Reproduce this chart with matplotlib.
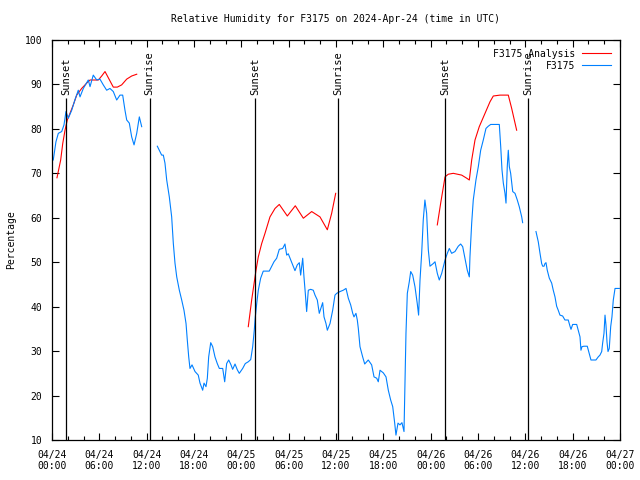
import numpy as np
import matplotlib
matplotlib.use('Agg')
import matplotlib.pyplot as plt
from matplotlib.ticker import MultipleLocator

plt.rcParams['font.family'] = ['DejaVu Sans Mono']
plt.rcParams['font.size'] = 7

nan = np.nan

# hours since 2024-04-24 00:00 UTC, observed relative humidity (gaps = nan)
obs_t = [0.16, 0.5, 0.8, 1.23, 1.52, 1.77, 2.07, 2.5, 2.9, 3.33, 3.55, 3.97, 4.6, 4.82,
         5.23, 5.67, 6.08, 6.5, 6.93, 7.35, 7.77, 8.2, 8.62, 8.96, 9.25, 9.47, 9.8, 10.1,
         10.4, 10.74, 11.07, 11.37,
         12.3,
         13.35, 13.9, 14.11, 14.32, 14.54, 14.87, 15.17, 15.38, 15.59, 15.81, 16.14, 16.44,
         16.73, 16.99, 17.15, 17.33, 17.49, 17.75, 18.13, 18.54, 18.76, 19.1, 19.27, 19.52,
         19.69, 19.86, 20.12, 20.37, 20.66, 20.95, 21.21, 21.64, 21.89, 22.14, 22.4, 22.69,
         22.9, 23.2, 23.49, 23.74, 24.17, 24.5, 24.88, 25.19, 25.44, 25.64, 25.77, 25.95,
         26.15, 26.45, 26.78, 27.54, 27.85, 28.14, 28.48, 28.81, 29.24, 29.53, 29.75, 29.95,
         30.17, 30.51, 30.8, 31.09, 31.35, 31.52, 31.78, 31.94, 32.11, 32.28, 32.49, 32.79,
         33.12, 33.34, 33.63, 33.88, 34.14, 34.31, 34.48, 34.73, 34.9, 35.24, 35.58, 35.87,
         36.09, 36.51, 36.92, 37.27, 37.56, 37.86, 38.12, 38.28, 38.53, 38.7, 38.83, 39.04,
         39.38, 39.64, 40.09, 40.52, 40.82, 41.16, 41.36, 41.58, 42.0, 42.34, 42.63, 42.93,
         43.19, 43.44, 43.6, 43.86, 44.11, 44.36, 44.62, 44.71, 44.87, 45.04, 45.29, 45.47,
         45.72, 46.01, 46.3, 46.47, 46.65, 46.86, 47.06, 47.27, 47.49, 47.7, 47.91, 48.33,
         48.55, 48.84, 49.09, 49.4, 49.82, 50.11, 50.36, 50.66, 51.08, 51.5, 51.8, 52.06,
         52.35, 52.64, 52.9, 52.98, 53.2, 53.4, 53.74, 54.04, 54.34, 54.67, 55.01, 55.3,
         55.61, 56.7, 56.88, 57.04, 57.21, 57.42, 57.55, 57.71, 57.84, 57.97, 58.14, 58.4,
         58.69, 58.98, 59.23, 59.54, 59.66,
         60.5,
         61.35, 61.64, 61.86, 62.07, 62.2, 62.37, 62.49, 62.62, 62.78, 63.04, 63.34, 63.54,
         63.76, 63.97, 64.17, 64.39, 64.73, 65.02, 65.44, 65.66, 65.79, 66.0, 66.51, 66.71,
         66.93, 67.05, 67.18, 67.43, 67.85, 68.1, 68.32, 68.95, 69.24, 69.46, 69.68, 69.8,
         69.97, 70.1, 70.22, 70.35, 70.48, 70.64, 70.82, 70.98, 71.15, 71.37, 71.91]
obs_rh = [73, 77.1, 79, 79.4, 80.9, 83.9, 82.4, 84.2, 86.5, 88.7, 87.2, 89.1, 91, 89.5,
          92.1, 91, 91.2, 89.9, 88.7, 89.1, 88.4, 86.5, 87.6, 87.6, 84.2, 82, 81.3, 78.2,
          76.4, 79, 82.7, 80.5,
          nan,
          76.1, 74.1, 74.1, 72.3, 68.5, 64.7, 60.2, 54.2, 49.8, 46.7, 43.7, 41.5,
          39.2, 36.2, 32.5, 28.7, 26.1, 26.9, 25.4, 24.6, 22.8, 21.2, 22.8, 22,
          23.9, 28.7, 31.9, 31, 28.7, 27.2, 26.1, 26.1, 23.1, 27.2, 28, 26.9,
          25.9, 27.1, 25.8, 25, 26.1, 27.2, 27.6, 28.1, 31, 34.7, 37.7, 40.7,
          43.7, 46.4, 48, 48, 49.1, 50.1, 50.9, 52.9, 53.1, 54.1, 51.6, 51.9,
          50.9, 49.4, 48.1, 49.4, 49.9, 47.1, 50.9, 46.7, 43, 38.9, 43.7, 43.9,
          43.7, 42.6, 41.5, 38.5, 40, 40.9, 37.7, 36.2, 34.7, 36.2, 39.2, 42.6,
          43, 43.4, 43.7, 44.1, 41.9, 40.4, 38.5, 37.7, 38.5, 37, 35.1, 31,
          28.7, 27.1, 28, 26.9, 24.2, 23.9, 23.1, 25.7, 25.1, 24.2, 21.2, 19,
          17.5, 13.8, 11.1, 13.8, 13.4, 13.9, 11.9, 19.7, 34, 43, 45.6, 47.9,
          47.1, 44.5, 40.7, 38.1, 46, 52, 59.5, 64, 61, 52.8, 49.1, 49.7,
          50.1, 47.5, 46, 47.5, 50.5, 52, 53.1, 52, 52.4, 53.6, 54.1, 53.5,
          50.9, 48.2, 46.7, 51.2, 58.8, 64, 68.5, 71.5, 75.2, 77.5, 80.1, 80.6,
          81, 81, 76, 70.8, 67.8, 65.5, 63.3, 71.5, 75.2, 71.5, 70, 65.9,
          65.5, 64, 62.5, 60.2, 58.9,
          nan,
          56.9, 54.6, 52, 49.7, 49.1, 49.1, 49.7, 49.9, 48.2, 46.4, 45.3, 43.7,
          42.2, 40.1, 39.2, 38.1, 37.9, 37, 37, 35.6, 34.9, 36, 36, 34.7,
          33.2, 30.2, 31, 31.1, 31.1, 29.5, 28, 28, 28.7, 29.1, 29.9, 31.8,
          34, 38.1, 35.9, 32.1, 29.9, 30.6, 35.5, 37.7, 41.5, 44.1, 44.1]

# analysis relative humidity
ana_t = [0.63, 1.1, 1.36, 1.65, 1.94, 2.28, 2.7, 3.13, 3.76, 4.4, 4.82, 5.87, 6.3, 6.72,
         7.23, 7.77, 8.28, 8.83, 9.47, 10.1, 10.74,
         18.0,
         24.88, 25.31, 25.86, 26.15, 26.58, 27.0, 27.63, 28.27, 28.81, 29.83, 30.84, 31.86,
         32.92, 33.97, 34.9, 35.45, 35.96,
         42.0,
         48.84, 49.27, 49.82, 50.23, 50.87, 51.93, 52.57, 52.9, 53.2, 53.62, 54.16, 54.89,
         55.52, 55.94, 56.79, 57.84, 58.27, 58.9]
ana_rh = [69, 73, 76.7, 79.7, 82, 83.5, 85.4, 87.6, 89.1, 90.3, 91, 91, 91.9, 92.9,
          91.2, 89.4, 89.4, 89.9, 91.2, 91.9, 92.3,
          nan,
          35.5, 41.5, 48.2, 51.2, 54.2, 56.5, 60.2, 62.1, 63, 60.4, 62.7, 59.9,
          61.4, 60.2, 57.3, 61, 65.5,
          nan,
          58.4, 63.3, 69.2, 69.8, 70, 69.6, 68.9, 68.5, 73, 77.5, 80.5, 83.5,
          86.1, 87.4, 87.6, 87.6, 84.6, 79.7]

sun_t = [1.77, 12.37, 25.77, 36.3, 49.86, 60.38]
sun_lbl = ['Sunset', 'Sunrise', 'Sunset', 'Sunrise', 'Sunset', 'Sunrise']

xtick_labels = ['04/24\n00:00', '04/24\n06:00', '04/24\n12:00', '04/24\n18:00',
                '04/25\n00:00', '04/25\n06:00', '04/25\n12:00', '04/25\n18:00',
                '04/26\n00:00', '04/26\n06:00', '04/26\n12:00', '04/26\n18:00',
                '04/27\n00:00']

fig = plt.figure(figsize=(6.4, 4.8), dpi=100)
ax = fig.add_axes([52 / 640, 40 / 480, 568 / 640, 400 / 480])

ax.plot(ana_t, ana_rh, color='#ff0000', linewidth=0.8, label='F3175 Analysis')
ax.plot(obs_t, obs_rh, color='#0080ff', linewidth=0.8, label='F3175')

for t, lbl in zip(sun_t, sun_lbl):
    ax.vlines(t, 10, 87, color='black', linewidth=0.9)
    ax.text(t, 87.6, lbl, rotation=90, ha='center', va='bottom', fontsize=7.5)

ax.set_xlim(0, 72)
ax.set_ylim(10, 100)
ax.set_xticks(np.arange(0, 73, 6))
ax.set_xticklabels(xtick_labels)
ax.xaxis.set_minor_locator(MultipleLocator(2))
ax.set_yticks(np.arange(10, 101, 10))
ax.tick_params(which='both', direction='in', top=True, right=True, width=0.8)
ax.tick_params(which='major', length=5, pad=7)
ax.tick_params(which='minor', length=3)
for s in ax.spines.values():
    s.set_linewidth(0.9)

ax.legend(loc='upper right', markerfirst=False, alignment='right', frameon=False,
          handlelength=3.0, handletextpad=0.7, labelspacing=0.2,
          borderaxespad=0.5, fontsize=7)

fig.text(0.524, 0.96, 'Relative Humidity for F3175 on 2024-Apr-24 (time in UTC)',
         ha='center', va='center', fontsize=7)
fig.text(0.018, 0.5, 'Percentage', rotation=90, ha='center', va='center', fontsize=7)

fig.savefig('out.png', dpi=100)
